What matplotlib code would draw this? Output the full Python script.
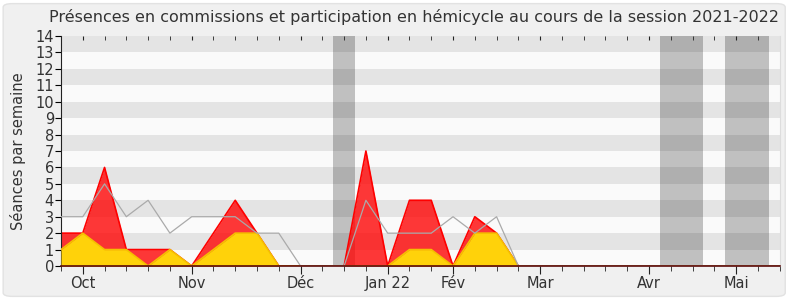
import matplotlib.pyplot as plt
from matplotlib.patches import FancyBboxPatch

# week index of each point (one per week of the session)
weeks = list(range(34))
# total séances (gray line)
total = [3, 3, 5, 3, 4, 2, 3, 3, 3, 2, 2, 0, 0, 0, 4, 2, 2, 2, 3, 2, 3, 0,
         0, 0, 0, 0, 0, 0, 0, 0, 0, 0, 0, 0]
# présences en commissions (red)
commission = [2, 2, 6, 1, 1, 1, 0, 2, 4, 2, 0, 0, 0, 0, 7, 0, 4, 4, 0, 3, 2, 0,
              0, 0, 0, 0, 0, 0, 0, 0, 0, 0, 0, 0]
# participation en hémicycle (yellow)
hemicycle = [1, 2, 1, 1, 0, 1, 0, 1, 2, 2, 0, 0, 0, 0, 0, 0, 1, 1, 0, 2, 2, 0,
             0, 0, 0, 0, 0, 0, 0, 0, 0, 0, 0, 0]
month_weeks = [1, 6, 11, 15, 18, 22, 27, 31]
month_labels = ['Oct', 'Nov', 'Déc', 'Jan 22', 'Fév', 'Mar', 'Avr', 'Mai']
# holiday periods (start week, end week)
holidays = [(12.5, 13.5), (27.5, 29.5), (30.5, 32.5)]


def draw_chart():
    fig = plt.figure(figsize=[7.9, 3.0], dpi=100)
    fig.patch.set_facecolor('#ffffff')
    bg = FancyBboxPatch((0.004, 0.012), 0.99, 0.976, boxstyle='round,pad=0,rounding_size=0.012',
                        transform=fig.transFigure, facecolor='#f0f0f0',
                        edgecolor='#e2e2e2', linewidth=1.0, zorder=-10)
    fig.patches.append(bg)

    ax = fig.add_axes([0.0772, 0.1133, 0.9098, 0.7667])
    ax.set_facecolor('#fafafa')
    ax.set_xlim(0, 33)
    ax.set_ylim(0, 14)

    for x0, x1 in holidays:
        ax.axvspan(x0, x1, color='#c0c0c0', lw=0, zorder=0.5)
    for y in range(1, 14, 2):
        ax.axhspan(y, y + 1, color='#000000', alpha=0.085, lw=0, zorder=0.6)

    ax.fill_between(weeks, commission, color='#ff0000', alpha=0.78, lw=0, zorder=2)
    ax.plot(weeks, commission, color='#ff0000', lw=1.2, zorder=2.1)
    ax.fill_between(weeks, hemicycle, color='#ffd20a', lw=0, zorder=3)
    ax.plot(weeks, hemicycle, color='#f5c000', lw=1.2, zorder=3.1)
    ax.plot(weeks, total, color='#aaaaaa', lw=0.9, zorder=4)

    fig.text(0.524, 0.942, 'Présences en commissions et participation en hémicycle au cours de la session 2021-2022',
             fontsize=11.5, color='#333333', ha='center', va='center')
    ax.set_ylabel('Séances par semaine', fontsize=10.5, color='#333333', labelpad=7)

    ax.set_yticks(range(15))
    ax.tick_params(axis='y', direction='out', length=4, labelsize=10.5,
                   labelcolor='#333333', pad=1)
    ax.set_xticks(month_weeks)
    ax.set_xticklabels(month_labels)
    ax.set_xticks(weeks, minor=True)
    ax.tick_params(axis='x', which='major', direction='out', length=6,
                   labelsize=10.5, labelcolor='#333333', pad=1)
    ax.tick_params(axis='x', which='minor', direction='out', length=3.5)
    ax.tick_params(axis='x', which='both', top=True, color='#222222')

    # top ticks point inward
    for tick in ax.xaxis.get_minor_ticks() + ax.xaxis.get_major_ticks():
        tick.tick2line.set_marker(3)
        tick.tick2line.set_markersize(3)

    ax.spines['top'].set_visible(False)
    ax.spines['right'].set_color('#dddddd')
    ax.spines['left'].set_color('#222222')
    ax.spines['bottom'].set_color('#5a0a0a')
    ax.spines['bottom'].set_linewidth(1.2)
    ax.spines['bottom'].set_zorder(5)

    plt.savefig('out.png', dpi=100, facecolor=fig.get_facecolor())


if __name__ == '__main__':
    draw_chart()
